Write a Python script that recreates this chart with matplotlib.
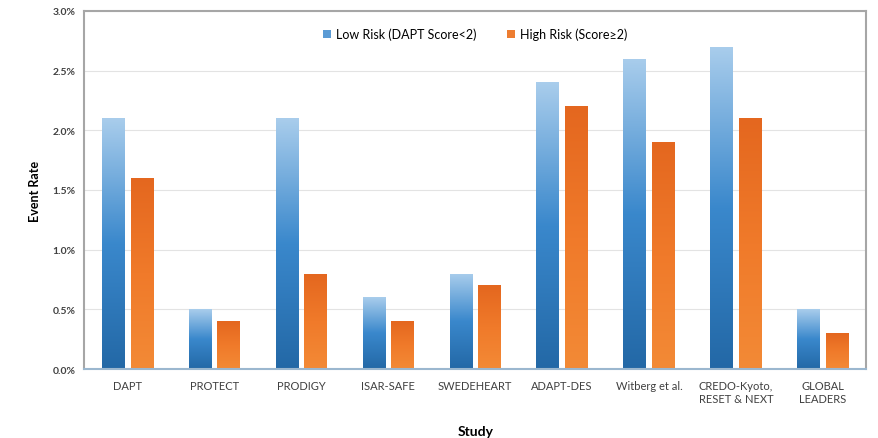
import matplotlib.pyplot as plt
import numpy as np
from matplotlib.colors import LinearSegmentedColormap
from matplotlib.patches import Patch
from matplotlib.ticker import PercentFormatter

plt.rcParams['font.family'] = ['Lato', 'DejaVu Sans']

studies = ['DAPT', 'PROTECT', 'PRODIGY', 'ISAR-SAFE', 'SWEDEHEART', 'ADAPT-DES',
           'Witberg et al.', 'CREDO-Kyoto,\nRESET & NEXT', 'GLOBAL\nLEADERS']
low_risk = [2.1, 0.5, 2.1, 0.6, 0.8, 2.4, 2.6, 2.7, 0.5]
high_risk = [1.6, 0.4, 0.8, 0.4, 0.7, 2.2, 1.9, 2.1, 0.3]

blue_cmap = LinearSegmentedColormap.from_list('b', ['#2368a6', '#3a88cc', '#a9cdec'])
orange_cmap = LinearSegmentedColormap.from_list('o', ['#f38a36', '#f07a2a', '#e4671f'])

fig = plt.figure(figsize=(8.79, 4.39), dpi=100)
ax = fig.add_axes([0.0956, 0.157, 0.890, 0.816])

x = np.arange(len(studies))
w = 0.26
off = 0.165
grad = np.linspace(0, 1, 256).reshape(-1, 1)

for vals, dx, cmap in [(low_risk, -off, blue_cmap), (high_risk, off, orange_cmap)]:
    bars = ax.bar(x + dx, vals, w, color='none', edgecolor='none', zorder=2)
    for b in bars:
        x0, y0 = b.get_x(), b.get_y()
        im = ax.imshow(grad, cmap=cmap, aspect='auto', origin='lower',
                       extent=[x0, x0 + b.get_width(), y0, y0 + b.get_height()], zorder=2)
        im.set_clip_path(b)

ax.set_xlim(-0.5, len(studies) - 0.5)
ax.set_ylim(0, 3.0)
ax.set_yticks(np.arange(0, 3.01, 0.5))
ax.yaxis.set_major_formatter(PercentFormatter(decimals=1))
ax.set_xticks(x)
ax.set_xticklabels(studies, fontsize=8, color='#404040')
ax.tick_params(axis='y', labelsize=7.5, length=0, pad=6)
ax.tick_params(axis='x', length=0, pad=8)
for lab in ax.get_yticklabels():
    lab.set_fontweight('bold')
    lab.set_color('#404040')
ax.grid(axis='y', color='#e3e3e3', linewidth=0.8, zorder=0)
ax.set_axisbelow(True)
for s in ax.spines.values():
    s.set_color('#a6a6a6')
    s.set_linewidth(1.5)
ax.spines['bottom'].set_color('#9bb7cf')

ax.set_ylabel('Event Rate', fontsize=9, fontweight='bold', labelpad=8)
ax.set_xlabel('Study', fontsize=10, fontweight='bold', labelpad=15)

handles = [Patch(facecolor='#5b9bd5', label='Low Risk (DAPT Score<2)'),
           Patch(facecolor='#ed7d31', label='High Risk (Score≥2)')]
ax.legend(handles=handles, loc='upper center', bbox_to_anchor=(0.5, 0.985), ncol=2,
          frameon=False, fontsize=9, handlelength=0.6, handleheight=0.6,
          handletextpad=0.4, columnspacing=2.5)

fig.savefig('out.png', dpi=100)
